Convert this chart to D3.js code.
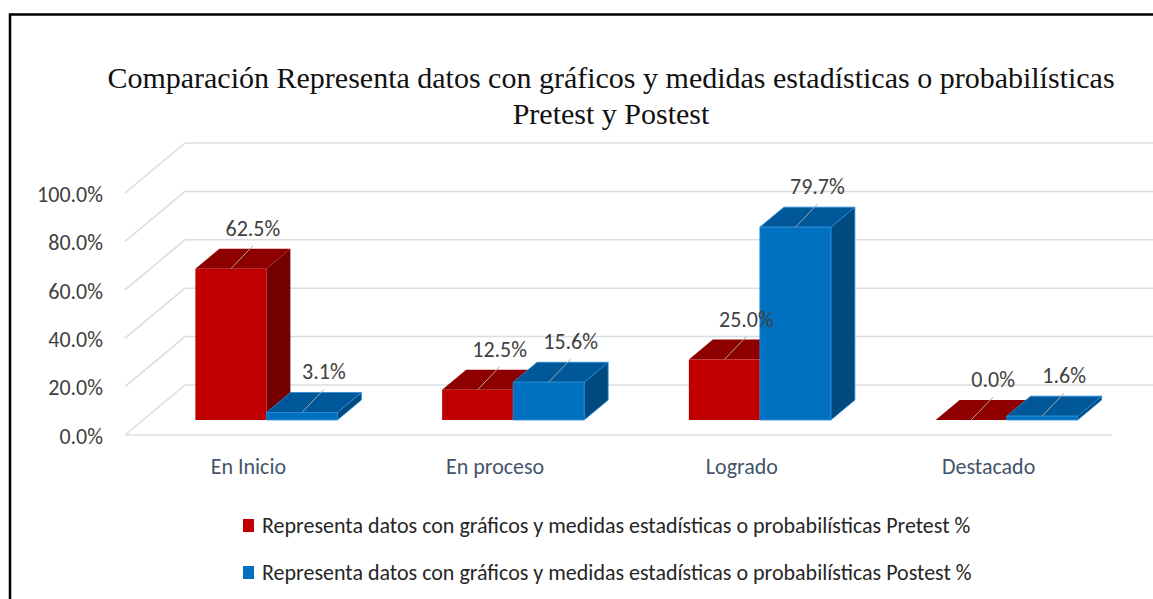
<!DOCTYPE html>
<html>
<head>
<meta charset="utf-8">
<script src="https://cdn.jsdelivr.net/npm/d3@7"></script>
<style>
  html, body { margin: 0; padding: 0; background: #fff; }
  svg { display: block; }
</style>
</head>
<body>
<div class="canvas"></div>
<script>
// data
const categories = ['En Inicio', 'En proceso', 'Logrado', 'Destacado'];
const pretest = [62.5, 12.5, 25.0, 0.0];
const postest = [3.1, 15.6, 79.7, 1.6];
const seriesNames = [
    'Representa datos con gráficos y medidas estadísticas o probabilísticas Pretest %',
    'Representa datos con gráficos y medidas estadísticas o probabilísticas Postest %'
];
const yTicks = [0, 20, 40, 60, 80, 100];
const titleLines = [
    'Comparación Representa datos con gráficos y medidas estadísticas o probabilísticas',
    'Pretest y Postest'
];

const width = 1153
const height = 599
const sansFont = "Carlito, Lato, 'Open Sans', sans-serif"
const sansSize = 22

const svg = d3.select('.canvas')
    .append('svg')
    .attr('width', width)
    .attr('height', height)

// frame (only top and left edges visible in the crop)
svg.append('rect')
    .attr('x', 10).attr('y', 14.5)
    .attr('width', 1200).attr('height', 700)
    .attr('fill', 'none')
    .attr('stroke', '#000')
    .attr('stroke-width', 2.5)

// title
svg.selectAll('.title')
    .data(titleLines)
    .enter().append('text')
    .attr('class', 'title')
    .attr('x', 611)
    .attr('y', (d, i) => 88 + i * 36)
    .attr('text-anchor', 'middle')
    .attr('font-family', "'Liberation Serif', 'Times New Roman', serif")
    .attr('font-size', 30)
    .attr('fill', '#111')
    .text(d => d)

// 3d-ish frame: front plane plus a depth vector
const depth = { dx: 60, dy: -50 }
const front = { left: 125, right: 1112 }

const x = d3.scaleBand()
    .domain(categories)
    .range([front.left, front.right])

const y = d3.scaleLinear()
    .domain([0, 100])
    .range([435, 193])

const gridColor = '#d9dde3'

// side wall lines
svg.selectAll('.side')
    .data(yTicks)
    .enter().append('line')
    .attr('x1', front.left).attr('y1', d => y(d))
    .attr('x2', front.left + depth.dx).attr('y2', d => y(d) + depth.dy)
    .attr('stroke', gridColor).attr('stroke-width', 1.5)

// back wall lines
svg.selectAll('.back')
    .data(yTicks)
    .enter().append('line')
    .attr('x1', front.left + depth.dx).attr('y1', d => y(d) + depth.dy)
    .attr('x2', front.right + depth.dx).attr('y2', d => y(d) + depth.dy)
    .attr('stroke', gridColor).attr('stroke-width', 1.5)

// front edge of the floor
svg.append('line')
    .attr('x1', front.left).attr('y1', y(0))
    .attr('x2', front.right).attr('y2', y(0))
    .attr('stroke', gridColor).attr('stroke-width', 1.5)

// y tick labels
svg.selectAll('.ytick')
    .data(yTicks)
    .enter().append('text')
    .attr('x', 103)
    .attr('y', d => y(d) + 1)
    .attr('dy', '0.35em')
    .attr('text-anchor', 'end')
    .attr('font-family', sansFont)
    .attr('font-size', sansSize)
    .attr('fill', '#404040')
    .text(d => d3.format('.1f')(d) + '%')

// category labels
svg.selectAll('.xtick')
    .data(categories)
    .enter().append('text')
    .attr('x', d => x(d) + x.bandwidth() / 2)
    .attr('y', 474)
    .attr('text-anchor', 'middle')
    .attr('font-family', sansFont)
    .attr('font-size', sansSize)
    .attr('fill', '#44546a')
    .text(d => d)

// bars
const barW = 71
const zFront = 0.3, zBack = 0.7
const styles = [
    { front: '#c00000', top: '#8e0000', side: '#760000', stroke: 'none' },
    { front: '#0070c0', top: '#00589b', side: '#004a80', stroke: '#2a8ad8' }
]

const bars = []
categories.forEach((c, i) => {
    [pretest[i], postest[i]].forEach((v, s) => {
        const cx = x(c) + x.bandwidth() / 2
        bars.push({ cat: c, s: s, v: v, x0: cx - barW + s * barW })
    })
})

const pt = (px, py, z) => [px + depth.dx * z, py + depth.dy * z]
const poly = pts => 'M' + pts.map(p => p.join(',')).join('L') + 'Z'

const barG = svg.selectAll('.bar')
    .data(bars)
    .enter().append('g')
    .attr('class', 'bar')

// side face
barG.append('path')
    .attr('d', d => {
        const xr = d.x0 + barW
        return poly([pt(xr, y(0), zFront), pt(xr, y(d.v), zFront), pt(xr, y(d.v), zBack), pt(xr, y(0), zBack)])
    })
    .attr('fill', d => styles[d.s].side)
    .attr('stroke', d => styles[d.s].stroke)
    .attr('stroke-width', 0.8)

// top face
barG.append('path')
    .attr('d', d => {
        const xr = d.x0 + barW
        return poly([pt(d.x0, y(d.v), zFront), pt(xr, y(d.v), zFront), pt(xr, y(d.v), zBack), pt(d.x0, y(d.v), zBack)])
    })
    .attr('fill', d => styles[d.s].top)
    .attr('stroke', d => styles[d.s].stroke)
    .attr('stroke-width', 0.8)

// front face
barG.append('path')
    .attr('d', d => {
        const xr = d.x0 + barW
        return poly([pt(d.x0, y(0), zFront), pt(xr, y(0), zFront), pt(xr, y(d.v), zFront), pt(d.x0, y(d.v), zFront)])
    })
    .attr('fill', d => styles[d.s].front)
    .attr('stroke', d => styles[d.s].stroke)
    .attr('stroke-width', 0.8)

// data labels with leader lines
const labelG = svg.selectAll('.lbl')
    .data(bars)
    .enter().append('g')

labelG.append('line')
    .attr('x1', d => pt(d.x0 + barW / 2, y(d.v), zFront)[0])
    .attr('y1', d => pt(d.x0 + barW / 2, y(d.v), zFront)[1])
    .attr('x2', d => pt(d.x0 + barW / 2, y(d.v), zFront)[0] + 22)
    .attr('y2', d => pt(d.x0 + barW / 2, y(d.v), zFront)[1] - 23)
    .attr('stroke', '#a6a6a6')
    .attr('stroke-width', 1)

labelG.append('text')
    .attr('x', d => pt(d.x0 + barW / 2, y(d.v), zFront)[0] + 22)
    .attr('y', d => pt(d.x0 + barW / 2, y(d.v), zFront)[1] - 33)
    .attr('text-anchor', 'middle')
    .attr('font-family', sansFont)
    .attr('font-size', sansSize)
    .attr('fill', '#404040')
    .text(d => d3.format('.1f')(d.v) + '%')

// legend
const legend = svg.selectAll('.legend')
    .data(seriesNames)
    .enter().append('g')
    .attr('transform', (d, i) => `translate(243, ${519 + i * 47})`)

legend.append('rect')
    .attr('width', 11).attr('height', 13)
    .attr('fill', (d, i) => styles[i].front)

legend.append('text')
    .attr('x', 19)
    .attr('y', 14)
    .attr('font-family', sansFont)
    .attr('font-size', sansSize)
    .attr('fill', '#262626')
    .text(d => d)
</script>
</body>
</html>
